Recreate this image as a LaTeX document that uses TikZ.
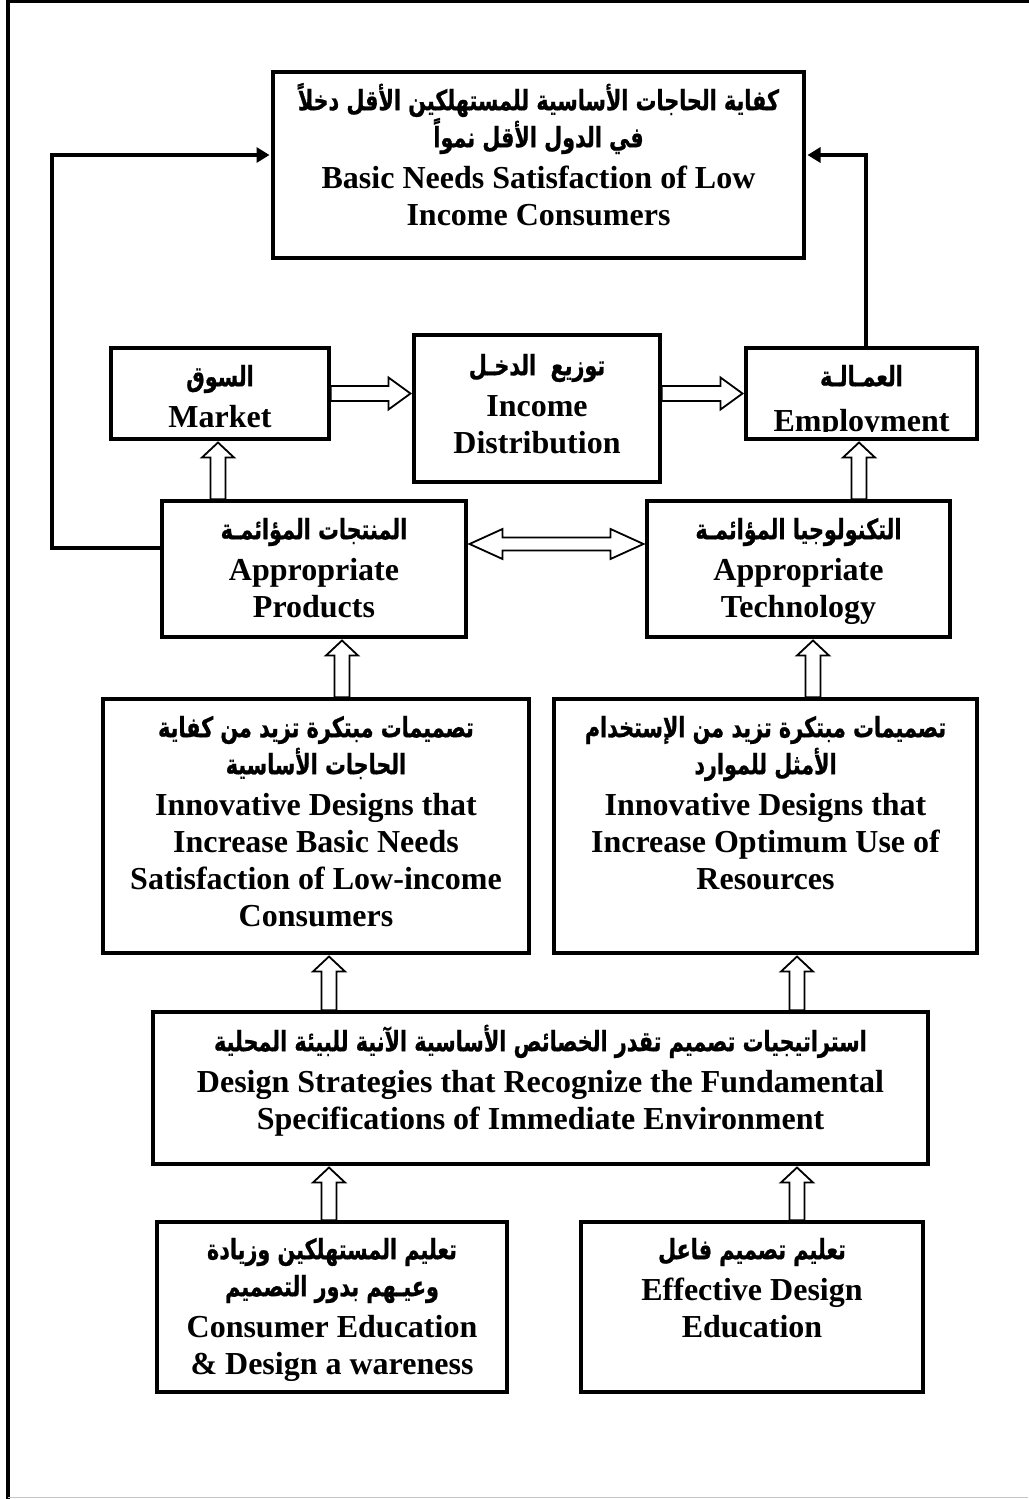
\documentclass[tikz,border=0pt]{standalone}
\usepackage{fontspec}
\setmainfont{Liberation Serif}
\newfontfamily\arabicfont[Script=Arabic,FakeStretch=0.74,FakeBold=0.8]{DejaVu Sans}
\TeXXeTstate=1
\usetikzlibrary{calc,arrows.meta}
\pgfdeclarelayer{bg}
\pgfsetlayers{bg,main}
\newcommand\arl[1]{{\arabicfont\fontsize{28}{37}\selectfont\beginR #1\endR}}
\newcommand\fst{\rule{0pt}{40pt}}
% block (hollow) arrow: #1 start, #2 end, #3 head length, #4 shaft half width, #5 head half width
\newcommand\blockarrow[5]{%
  \coordinate (bat) at ($(#2)!1.75pt!(#1)$);
  \coordinate (bah) at ($(bat)!#3!(#1)$);
  \path[barrow] ($(#1)!#4!90:(bat)$) -- ($(bah)!#4!90:(bat)$) -- ($(bah)!#5!90:(bat)$) -- (bat)
     -- ($(bah)!#5!-90:(bat)$) -- ($(bah)!#4!-90:(bat)$) -- ($(#1)!#4!-90:(bat)$) -- cycle;}
\newcommand\dblblockarrow[5]{%
  \coordinate (bta) at ($(#1)!1.75pt!(#2)$);
  \coordinate (btb) at ($(#2)!1.75pt!(#1)$);
  \coordinate (bha) at ($(bta)!#3!(btb)$);
  \coordinate (bhb) at ($(btb)!#3!(bta)$);
  \path[barrow] (bta) -- ($(bha)!#5!90:(btb)$) -- ($(bha)!#4!90:(btb)$) -- ($(bhb)!#4!-90:(bta)$)
     -- ($(bhb)!#5!-90:(bta)$) -- (btb) -- ($(bhb)!#5!90:(bta)$) -- ($(bhb)!#4!90:(bta)$)
     -- ($(bha)!#4!-90:(btb)$) -- ($(bha)!#5!-90:(btb)$) -- cycle;}
\tikzset{
  box/.style={draw, line width=3.5pt, fill=white, inner sep=0pt},
  txt/.style={anchor=north, inner sep=0pt, align=center,
    font=\fontsize{32}{37}\selectfont\bfseries},
  fb/.style={line width=3.5pt, -{Triangle[length=13pt,width=15pt]}, shorten >=1.75pt},
  barrow/.style={draw, line width=1.8pt, fill=white, line join=miter},
}
\begin{document}
\begin{tikzpicture}[x=1pt,y=-1pt]
\lineskiplimit=-100pt
\useasboundingbox (0,0) rectangle (1028,1499);
% page frame
\draw[line width=4pt] (8,1500) -- (8,1) -- (1030,1);
\draw[gray!45, line width=1.5pt] (8,1497.5) -- (1028,1497.5);
% boxes
\node[box, minimum width=531pt, minimum height=186pt] (top) at (538.5,165) {};
\node[box, minimum width=218pt, minimum height=91pt] (market) at (220,393.5) {};
\node[box, minimum width=246pt, minimum height=147pt] (income) at (537,408.5) {};
\node[box, minimum width=231pt, minimum height=91pt] (employ) at (861.5,393.5) {};
\node[box, minimum width=304pt, minimum height=136pt] (prod) at (314,569) {};
\node[box, minimum width=303pt, minimum height=136pt] (tech) at (798.5,569) {};
\node[box, minimum width=426pt, minimum height=254pt] (innL) at (316,826) {};
\node[box, minimum width=423pt, minimum height=254pt] (innR) at (765.5,826) {};
\node[box, minimum width=775pt, minimum height=152pt] (ds) at (540.5,1088) {};
\node[box, minimum width=350pt, minimum height=170pt] (cons) at (332,1307) {};
\node[box, minimum width=342pt, minimum height=170pt] (eff) at (752,1307) {};
% texts
\node[txt] (topT) at (538.5,70) {\fst\arl{كفاية الحاجات الأساسية للمستهلكين الأقل دخلاً}\\
  \arl{في الدول الأقل نمواً}\\[4pt] Basic Needs Satisfaction of Low\\ Income Consumers};
\node[txt] (marketT) at (220,346) {\fst\arl{السوق}\\[4pt] Market};
\node[txt] (incomeT) at (537,335) {\fst\arl{توزيع~~الدخـل}\\[4pt] Income\\ Distribution};
\begin{scope}
  \clip (746,348) rectangle (977,431);
  \node[txt] (employT) at (861.5,346) {\fst\arl{العمـالـة}\\[8pt] Employment};
\end{scope}
\node[txt] (prodT) at (314,499) {\fst\arl{المنتجات المؤائمـة}\\[4pt] Appropriate\\ Products};
\node[txt] (techT) at (798.5,499) {\fst\arl{التكنولوجيا المؤائمـة}\\[4pt] Appropriate\\ Technology};
\node[txt] (innLT) at (316,697) {\fst\arl{تصميمات مبتكرة تزيد من كفاية}\\ \arl{الحاجات الأساسية}\\[4pt]
  Innovative Designs that\\ Increase Basic Needs\\ Satisfaction of Low-income\\ Consumers};
\node[txt] (innRT) at (765.5,697) {\fst\arl{تصميمات مبتكرة تزيد من الإستخدام}\\ \arl{الأمثل للموارد}\\[4pt]
  Innovative Designs that\\ Increase Optimum Use of\\ Resources};
\node[txt] (dsT) at (540.5,1011) {\fst\arl{استراتيجيات تصميم تقدر الخصائص الأساسية الآنية للبيئة المحلية}\\[4pt]
  Design Strategies that Recognize the Fundamental\\ Specifications of Immediate Environment};
\node[txt] (consT) at (332,1219) {\fst\arl{تعليم المستهلكين وزيادة}\\ \arl{وعيـهم بدور التصميم}\\[4pt]
  Consumer Education\\ \& Design a wareness};
\node[txt] (effT) at (752,1219) {\fst\arl{تعليم تصميم فاعل}\\[4pt] Effective Design\\ Education};
% connectors
\begin{pgfonlayer}{bg}
  \draw[fb] ([yshift=21pt]prod.west) -| (52,155) -- ([yshift=10pt]top.west);
  \draw[fb] ([xshift=4.5pt]employ.north) |- ([yshift=10pt]top.east);
  \blockarrow{market.east}{income.west |- market.east}{22pt}{7.5pt}{16pt}
  \blockarrow{income.east |- employ.west}{employ.west}{22pt}{7.5pt}{16pt}
  \blockarrow{218,0 |- prod.north}{218,0 |- market.south}{15pt}{7.5pt}{16pt}
  \blockarrow{859,0 |- tech.north}{859,0 |- employ.south}{15pt}{7.5pt}{16pt}
  \dblblockarrow{prod.east |- 0,544}{tech.west |- 0,544}{33pt}{6.5pt}{15pt}
  \blockarrow{342,0 |- innL.north}{342,0 |- prod.south}{15pt}{7.5pt}{16pt}
  \blockarrow{813,0 |- innR.north}{813,0 |- tech.south}{15pt}{7.5pt}{16pt}
  \blockarrow{329,0 |- ds.north}{329,0 |- innL.south}{15pt}{7.5pt}{16pt}
  \blockarrow{797,0 |- ds.north}{797,0 |- innR.south}{15pt}{7.5pt}{16pt}
  \blockarrow{329,0 |- cons.north}{329,0 |- ds.south}{15pt}{7.5pt}{16pt}
  \blockarrow{797,0 |- eff.north}{797,0 |- ds.south}{15pt}{7.5pt}{16pt}
\end{pgfonlayer}
\end{tikzpicture}
\end{document}
